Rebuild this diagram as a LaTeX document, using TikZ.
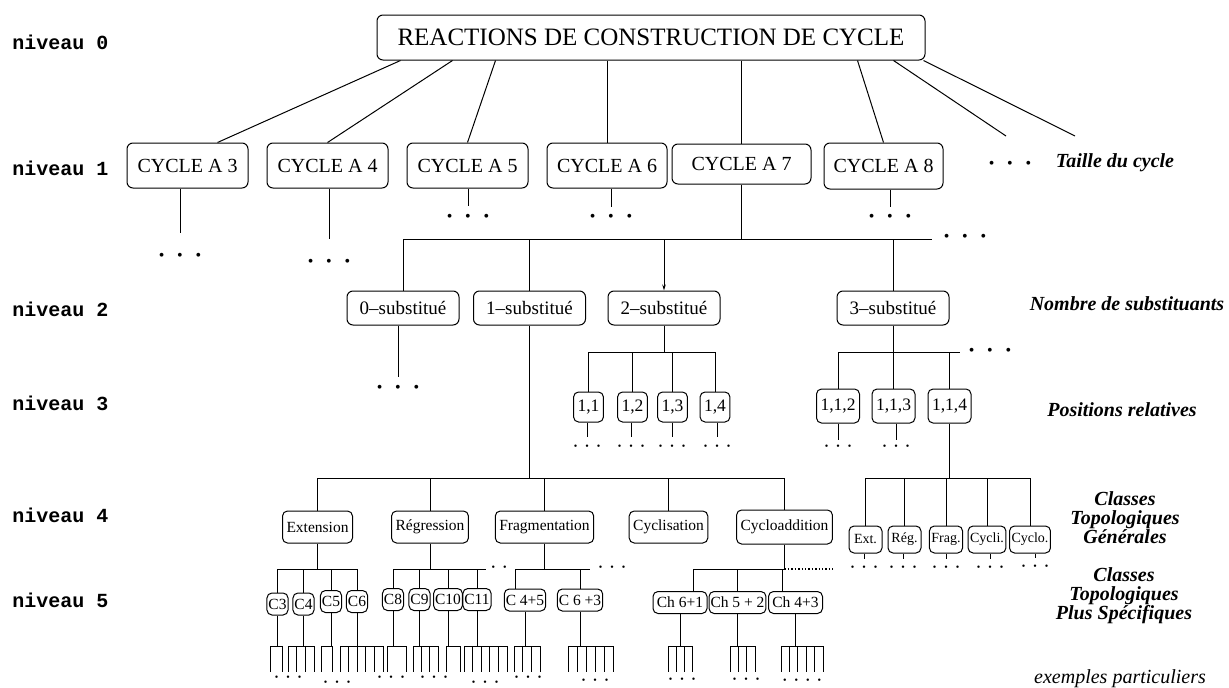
\documentclass[tikz,border=0pt]{standalone}
\usepackage{fontspec}
\setmainfont{Liberation Serif}
\setmonofont{Liberation Mono}
\usetikzlibrary{arrows.meta,calc}
\newcommand{\etcdots}{\textbullet\hspace{0.8em}\textbullet\hspace{0.8em}\textbullet}

\begin{document}
\begin{tikzpicture}[x=1pt, y=-1pt, line width=1pt,
  box/.style={draw, rounded corners=6pt, inner sep=0pt, align=center},
  titlebox/.style={box, font=\fontsize{25}{25}\selectfont, minimum width=548pt, minimum height=45pt},
  cycbox/.style={box, font=\fontsize{20}{20}\selectfont, minimum width=121pt, minimum height=45pt},
  subbox/.style={box, font=\fontsize{19}{19}\selectfont, minimum width=112pt, minimum height=34pt},
  posbox/.style={box, rounded corners=5pt, font=\fontsize{17.5}{17.5}\selectfont, inner xsep=4pt, minimum height=30pt},
  clsbox/.style={box, rounded corners=5pt, font=\fontsize{15.5}{15.5}\selectfont, inner xsep=4pt, minimum height=32pt},
  clbox/.style={box, rounded corners=5pt, font=\fontsize{14}{14}\selectfont, inner xsep=2pt, minimum width=33pt, minimum height=27pt},
  specbox/.style={box, rounded corners=5pt, font=\fontsize{15.5}{15.5}\selectfont, inner xsep=1.5pt, minimum height=22pt},
  lvl/.style={anchor=west, inner sep=0pt, font=\fontsize{20}{20}\selectfont\ttfamily\bfseries},
  notetext/.style={align=center, inner sep=0pt, font=\fontsize{20}{19}\selectfont\bfseries\itshape},
  etcbig/.style={inner sep=0pt, font=\fontsize{16}{16}\selectfont},
  etcsmall/.style={inner sep=0pt, font=\fontsize{10}{10}\selectfont},
  arrow/.style={-{Stealth[length=6pt, width=3.5pt]}}]

\useasboundingbox (0,0) rectangle (1229,688);

\node[lvl] (n0) at (12,42) {niveau 0};
\node[lvl] (n1) at (12,168) {niveau 1};
\node[lvl] (n2) at (12,309) {niveau 2};
\node[lvl] (n3) at (12,403) {niveau 3};
\node[lvl] (n4) at (12,515) {niveau 4};
\node[lvl] (n5) at (12,600) {niveau 5};

\node[titlebox] (title) at (651,37.5) {REACTIONS DE CONSTRUCTION DE CYCLE};

\node[cycbox] (a3) at (187.5,165.5) {CYCLE A 3};
\node[cycbox] (a4) at (327.5,165.5) {CYCLE A 4};
\node[cycbox] (a5) at (467.5,165.5) {CYCLE A 5};
\node[cycbox, minimum width=120pt] (a6) at (607,165.5) {CYCLE A 6};
\node[cycbox, minimum width=139pt, minimum height=40pt] (a7) at (741.5,164) {CYCLE A 7};
\node[cycbox, minimum width=119pt, minimum height=46pt] (a8) at (883.5,166) {CYCLE A 8};
\node[etcbig] (dmore) at (1010,165) {\etcdots};
\node[notetext] (taille) at (1115,163) {Taille du cycle};
\coordinate (more1) at (1006,136);
\coordinate (more2) at (1075,136);

\draw ([xshift=24pt]title.south west) -- ([xshift=30pt]a3.north);
\draw ([xshift=76pt]title.south west) -- (a4.north);
\draw ([xshift=119pt]title.south west) -- (a5.north);
\draw (title.south -| a6.north) -- (a6.north);
\draw (title.south -| a7.north) -- (a7.north);
\draw ([xshift=481pt]title.south west) -- (a8.north);
\draw ([xshift=517pt]title.south west) -- (more1);
\draw ([xshift=-2pt]title.south east) -- (more2);

\node[etcbig] (d3) at (180,257) {\etcdots};
\node[etcbig] (d4) at (329,263) {\etcdots};
\node[etcbig] (d5) at (468,218) {\etcdots};
\node[etcbig] (d6) at (611,218) {\etcdots};
\node[etcbig] (d8) at (890,218) {\etcdots};
\draw[shorten >=24pt] (a3.south -| d3) -- (d3.center);
\draw[shorten >=24pt] (a4.south -| d4) -- (d4.center);
\draw[shorten >=12pt] (a5.south -| d5) -- (d5.center);
\draw[shorten >=11pt] (a6.south -| d6) -- (d6.center);
\draw[shorten >=11pt] (a8.south -| d8) -- (d8.center);

\coordinate (yA) at (0,239);
\coordinate (endA) at (932,239);
\node[etcbig] (dA) at (965,238) {\etcdots};

\node[subbox] (zero) at (403,308) {0–substitué};
\node[subbox] (one) at (529.5,308) {1–substitué};
\node[subbox] (two) at (664,308) {2–substitué};
\node[subbox] (three) at (893,308) {3–substitué};
\node[notetext] (nombre) at (1127,304) {Nombre de substituants};

\draw (a7.south) -- (a7.south |- yA);
\draw (zero.north |- yA) -- (endA);
\draw (zero.north |- yA) -- (zero.north);
\draw (one.north |- yA) -- (one.north);
\draw[arrow] (two.north |- yA) -- (two.north);
\draw (three.north |- yA) -- (three.north);

\node[etcbig] (dzero) at (398,389) {\etcdots};
\draw[shorten >=12pt] (zero.south -| dzero) -- (dzero.center);

\coordinate (yB) at (0,352);
\node[posbox] (p11) at (588.5,407) {1,1};
\node[posbox] (p12) at (632.5,407) {1,2};
\node[posbox] (p13) at (672.5,407) {1,3};
\node[posbox] (p14) at (715,407) {1,4};
\node[posbox, minimum height=34pt] (p112) at (838,406) {1,1,2};
\node[posbox, minimum height=34pt] (p113) at (893.5,406) {1,1,3};
\node[posbox, minimum height=34pt] (p114) at (949.5,406) {1,1,4};
\node[notetext] (positions) at (1122,410) {Positions relatives};

\draw (two.south) -- (two.south |- yB);
\draw (p11.north |- yB) -- (p14.north |- yB);
\foreach \nd in {p11,p12,p13,p14} \draw (\nd.north |- yB) -- (\nd.north);
\coordinate (endB) at (960,352);
\node[etcbig] (dB) at (990,352) {\etcdots};
\draw (three.south) -- (three.south |- yB);
\draw (p112.north |- yB) -- (endB);
\foreach \nd in {p112,p113,p114} \draw (\nd.north |- yB) -- (\nd.north);

\node[etcsmall] (d11) at (587,447) {\etcdots};
\node[etcsmall] (d12) at (631,447) {\etcdots};
\node[etcsmall] (d13) at (672,447) {\etcdots};
\node[etcsmall] (d14) at (717,447) {\etcdots};
\node[etcsmall] (d112) at (838,447) {\etcdots};
\node[etcsmall] (d113) at (896,447) {\etcdots};
\foreach \nd in {11,12,13,14} \draw[shorten >=10pt] (p\nd.south -| d\nd) -- (d\nd.center);
\foreach \nd in {112,113} \draw[shorten >=7pt] (p\nd.south -| d\nd) -- (d\nd.center);

\coordinate (yC) at (0,478);
\node[clsbox] (ext) at (317.5,527) {Extension};
\node[clsbox] (reg) at (430,527) {Régression};
\node[clsbox] (frag) at (544.5,527) {Fragmentation};
\node[clsbox] (cycl) at (668.5,527) {Cyclisation};
\node[clsbox, minimum height=34pt] (cyca) at (784.5,527) {Cycloaddition};
\draw (one.south) -- (one.south |- yC);
\draw (ext.north |- yC) -- (cyca.north |- yC);
\foreach \nd in {ext,reg,frag,cycl,cyca} \draw (\nd.north |- yC) -- (\nd.north);

\node[clbox] (bext) at (865.5,539.5) {Ext.};
\node[clbox] (breg) at (904.5,539.5) {Rég.};
\node[clbox] (bfrag) at (946,539.5) {Frag.};
\node[clbox] (bcycli) at (987,539.5) {Cycli.};
\node[clbox] (bcyclo) at (1030,539.5) {Cyclo.};
\node[notetext] (generales) at (1125,518) {Classes\\ Topologiques\\ Générales};
\draw (p114.south) -- (p114.south |- yC);
\draw (bext.north |- yC) -- (bcyclo.north |- yC);
\foreach \nd in {bext,breg,bfrag,bcycli,bcyclo} \draw (\nd.north |- yC) -- (\nd.north);

\node[etcsmall] (dx1) at (864,568) {\etcdots};
\node[etcsmall] (dx2) at (903,568) {\etcdots};
\node[etcsmall] (dx3) at (946,568) {\etcdots};
\node[etcsmall] (dx4) at (990,568) {\etcdots};
\node[etcsmall] (dx5) at (1035,567) {\etcdots};
\draw[shorten >=9pt] (bext.south -| dx1) -- (dx1.center);
\draw[shorten >=9pt] (breg.south -| dx2) -- (dx2.center);
\draw[shorten >=9pt] (bfrag.south -| dx3) -- (dx3.center);
\draw[shorten >=9pt] (bcycli.south -| dx4) -- (dx4.center);
\draw[shorten >=9pt] (bcyclo.south -| dx5) -- (dx5.center);

\coordinate (yD) at (0,569);
\node[specbox] (c3) at (277.5,604) {C3};
\node[specbox] (c4) at (303.5,604) {C4};
\node[specbox] (c5) at (331,601.5) {C5};
\node[specbox] (c6) at (357,601.5) {C6};
\node[specbox] (c8) at (393,599.5) {C8};
\node[specbox] (c9) at (419.5,599.5) {C9};
\node[specbox] (c10) at (448,599.5) {C10};
\node[specbox] (c11) at (477,599.5) {C11};
\node[specbox] (c45) at (525,600) {C 4+5};
\node[specbox] (c63) at (580,600) {C 6 +3};
\node[specbox, minimum width=54pt] (ch61) at (680,602.5) {Ch 6+1};
\node[specbox, minimum width=54pt] (ch52) at (737.5,602.5) {Ch 5 + 2};
\node[specbox, minimum width=54pt] (ch43) at (795.5,602.5) {Ch 4+3};
\node[notetext] (specifiques) at (1124,596) {Classes\\ Topologiques\\ Plus Spécifiques};

\draw (ext.south) -- (ext.south |- yD);
\draw (c3.north |- yD) -- (c6.north |- yD);
\foreach \nd in {c3,c4,c5,c6} \draw (\nd.north |- yD) -- (\nd.north);

\coordinate (endR) at (486,569);
\node[etcsmall] (dreg) at (499,568) {\textbullet\hspace{0.8em}\textbullet};
\draw (reg.south) -- (reg.south |- yD);
\draw (c8.north |- yD) -- (endR);
\foreach \nd in {c8,c9,c10,c11} \draw (\nd.north |- yD) -- (\nd.north);

\coordinate (endF) at (590,569);
\node[etcsmall] (dfrag) at (612,568) {\etcdots};
\draw (frag.south) -- (frag.south |- yD);
\draw ($(c45.north |- yD)+(-10,0)$) -- (endF);
\draw ($(c45.north |- yD)+(-10,0)$) -- ($(c45.north)+(-10,0)$);
\draw (c63.north |- yD) -- (c63.north);

\coordinate (endC) at (833,569);
\draw (cyca.south) -- (cyca.south |- yD);
\draw ($(ch61.north |- yD)+(13,0)$) -- (cyca.south |- yD);
\draw[dotted, line width=1.4pt] (cyca.south |- yD) -- (endC);
\draw ($(ch61.north |- yD)+(13,0)$) -- ($(ch61.north)+(13,0)$);
\draw (ch52.north |- yD) -- (ch52.north);
\draw ($(ch43.north |- yD)+(-13,0)$) -- ($(ch43.north)+(-13,0)$);

\coordinate (combtop) at (0,646);
\coordinate (combbot) at (0,672);
\foreach \nd/\lft/\rgt/\nt in {c3/-7.5/4.5/1, c4/-15.5/10.5/3, c5/-10/1/1, c6/-17/26/5,
  c8/-6/13/1, c9/-6.5/18.5/3, c10/-2/12/1, c11/-13/30/5, c45/-11/15/3, c63/-12/33/5,
  ch61/-12/12/3, ch52/-7.5/17.5/3, ch43/-14.5/27.5/5} {
  \draw (\nd.south) -- (\nd.south |- combtop);
  \draw ($(\nd.south |- combtop)+(\lft,0)$) -- ($(\nd.south |- combtop)+(\rgt,0)$);
  \foreach \ti in {0,...,\nt}
    \draw ($(\nd.south |- combtop)+({\lft+\ti*(\rgt-(\lft))/\nt},0)$) -- ($(\nd.south |- combbot)+({\lft+\ti*(\rgt-(\lft))/\nt},0)$);
}

\node[etcsmall] (l1) at (288,678) {\etcdots};
\node[etcsmall] (l2) at (337,683) {\etcdots};
\node[etcsmall] (l3) at (391,678) {\etcdots};
\node[etcsmall] (l4) at (434,678) {\etcdots};
\node[etcsmall] (l5) at (485,683) {\etcdots};
\node[etcsmall] (l6) at (528,678) {\etcdots};
\node[etcsmall] (l7) at (595,681) {\etcdots};
\node[etcsmall] (l8) at (682,680) {\etcdots};
\node[etcsmall] (l9) at (746,680) {\etcdots};
\node[etcsmall] (l10) at (802,681) {\etcdots\hspace{0.8em}\textbullet};
\node[notetext, font=\fontsize{20}{20}\selectfont\itshape] (exemples) at (1120,679) {exemples particuliers};
\end{tikzpicture}
\end{document}
